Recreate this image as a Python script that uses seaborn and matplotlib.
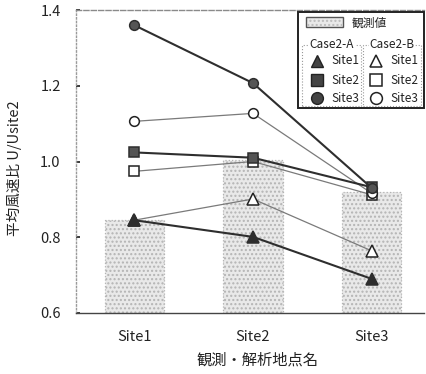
import matplotlib
matplotlib.use("Agg")
import matplotlib.pyplot as plt
import seaborn as sns
import pandas as pd
from matplotlib.patches import Rectangle
from matplotlib.lines import Line2D

# ---- data -------------------------------------------------------------
sites = ["Site1", "Site2", "Site3"]
observed = [0.846, 1.005, 0.920]

case_a_site1 = [0.845, 0.801, 0.690]
case_a_site2 = [1.024, 1.010, 0.932]
case_a_site3 = [1.360, 1.207, 0.930]

case_b_site1 = [0.845, 0.901, 0.764]
case_b_site2 = [0.974, 1.000, 0.912]
case_b_site3 = [1.106, 1.127, 0.916]

yticks = [0.6, 0.8, 1.0, 1.2, 1.4]

# ---- style ------------------------------------------------------------
sns.set_theme(style="white")
plt.rcParams["font.family"] = ["Noto Sans CJK JP", "DejaVu Sans"]

W, H = 426, 374
fig = plt.figure(figsize=(W / 100, H / 100), dpi=100)
ax = fig.add_axes([76 / W, 1 - 313 / H, 348 / W, 303 / H])

# observed values as bars
obs_df = pd.DataFrame({"site": sites, "value": observed})
sns.barplot(data=obs_df, x="site", y="value", ax=ax, width=0.5,
            color="#e9e9e9", edgecolor="#b4b4b4", linewidth=0.9,
            linestyle=":", saturation=1)
for bar in ax.patches:
    bar.set_hatch("....")
    bar.set_zorder(1)

x_pos = [0, 1, 2]
dark = "#2e2e2e"
grey = "#7a7a7a"

series = [
    (case_a_site1, "^", dark, dark, 1.5, "-", 8),
    (case_a_site2, "s", dark, "#555555", 1.5, "-", 6.5),
    (case_a_site3, "o", dark, "#555555", 1.5, "-", 7),
    (case_b_site1, "^", grey, "white", 0.9, "-", 8),
    (case_b_site2, "s", grey, "white", 0.9, "-", 6.5),
    (case_b_site3, "o", grey, "white", 0.9, "-", 7),
]
order = [3, 4, 5, 0, 1, 2]
for i in order:
    vals, mk, lc, fc, lw, ls, ms = series[i]
    edge = dark if fc != "white" else "#222222"
    sns.lineplot(x=x_pos, y=vals, ax=ax, color=lc, linewidth=lw,
                 linestyle=ls, marker=mk, markersize=ms,
                 markerfacecolor=fc, markeredgecolor=edge,
                 markeredgewidth=1.1, zorder=3 + (i < 3))

ax.set_xlim(-0.49, 2.44)
ax.set_ylim(0.6, 1.4)
ax.set_yticks(yticks)
ax.set_yticklabels([f"{v:.1f}" for v in yticks])
ax.set_xticks(x_pos)
ax.set_xticklabels(sites)

ax.tick_params(axis="x", length=0, pad=12, labelsize=10.5, colors="#222222")
ax.tick_params(axis="y", length=3, direction="in", pad=11, labelsize=10.5,
               colors="#222222", left=True)

for side, sp in ax.spines.items():
    sp.set_visible(True)
ax.spines["right"].set_visible(False)
ax.spines["top"].set_color("#8a8a8a")
ax.spines["top"].set_linestyle("--")
ax.spines["top"].set_linewidth(1.0)
ax.spines["left"].set_color("#9a9a9a")
ax.spines["left"].set_linestyle(":")
ax.spines["left"].set_linewidth(1.0)
ax.spines["bottom"].set_color("#444444")
ax.spines["bottom"].set_linewidth(1.0)

ax.set_xlabel("観測・解析地点名", fontsize=11, color="#222222")
ax.set_ylabel("平均風速比 U/Usite2", fontsize=10.5, color="#222222")
ax.xaxis.set_label_coords((258 - 76) / 348, (313 - 352) / 303)
ax.yaxis.set_label_coords((22 - 76) / 348, (313 - 168) / 303)


# ---- legend box drawn in figure pixel coordinates ----------------------
def fx(px):
    return px / W


def fy(py):
    return 1 - py / H


def box(x0, y0, x1, y1, **kw):
    fig.add_artist(Rectangle((fx(x0), fy(y1)), fx(x1) - fx(x0),
                             fy(y0) - fy(y1), transform=fig.transFigure, **kw))


box(298, 12, 424, 108, facecolor="white", edgecolor="#222222", linewidth=1.4,
    zorder=10)
box(306, 17, 343, 27, facecolor="#e9e9e9", edgecolor="#555555",
    linewidth=1.0, zorder=11)
box(307, 18, 342, 26, facecolor="none", edgecolor="#bbbbbb",
    linewidth=0, hatch="....", zorder=11)
fig.text(fx(352), fy(23), "観測値", fontsize=8.5, va="center", ha="left",
         color="#222222", zorder=12)

box(302, 45, 361, 106, facecolor="none", edgecolor="#999999", linewidth=0.8,
    linestyle=":", zorder=11)
box(363, 45, 421, 106, facecolor="none", edgecolor="#999999", linewidth=0.8,
    linestyle=":", zorder=11)
for cx, label in [(332, "Case2-A"), (392, "Case2-B")]:
    fig.text(fx(cx), fy(45), label, fontsize=8.5, va="center", ha="center",
             color="#222222", zorder=12,
             bbox=dict(facecolor="white", edgecolor="none", pad=0.3))

rows = [61, 80, 98]
legend_marks = [("^", 9), ("s", 8), ("o", 8.5)]
for (mk, ms), ry, name in zip(legend_marks, rows, sites):
    fig.add_artist(Line2D([fx(317)], [fy(ry)], marker=mk, markersize=ms,
                          markerfacecolor="#444444", markeredgecolor="#222222",
                          transform=fig.transFigure, zorder=12))
    fig.text(fx(331), fy(ry), name, fontsize=8.5, va="center", ha="left",
             color="#222222", zorder=12)
    fig.add_artist(Line2D([fx(376)], [fy(ry)], marker=mk, markersize=ms,
                          markerfacecolor="white", markeredgecolor="#222222",
                          markeredgewidth=1.1,
                          transform=fig.transFigure, zorder=12))
    fig.text(fx(390), fy(ry), name, fontsize=8.5, va="center", ha="left",
             color="#222222", zorder=12)

fig.savefig("out.png", dpi=100)
